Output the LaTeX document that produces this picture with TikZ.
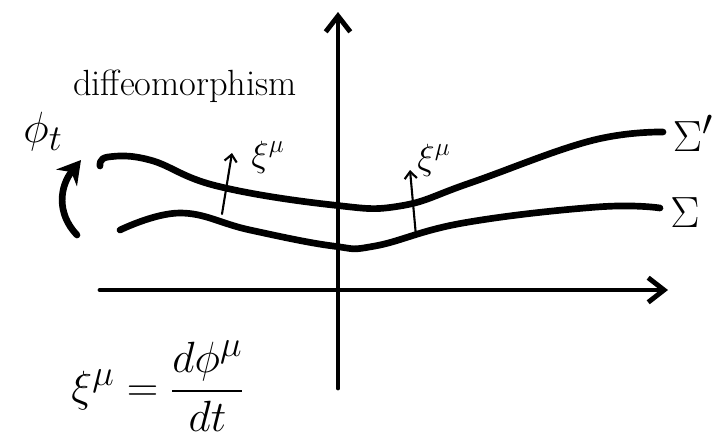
\documentclass[tikz,border=0pt]{standalone}
\usepackage{amsmath}
\usepackage{tikz}
\usetikzlibrary{arrows.meta}

\begin{document}
\begin{tikzpicture}[
  x=0.02cm, y=-0.02cm, line cap=round, line join=round,
  surf/.style={line width=3.8pt},
  axis/.style={line width=2.8pt, -{Straight Barb[length=9pt, width=14pt, line width=2.8pt]}},
  flow/.style={line width=1.2pt, -{Straight Barb[length=4pt, width=7pt, line width=1.2pt]}},
  lbl/.style={inner sep=0pt}]
\useasboundingbox (0,0) rectangle (724,441);
% axes
\coordinate (xl) at (100,290); \coordinate (xr) at (668,290);
\coordinate (yb) at (338,388); \coordinate (yt) at (338,12);
\draw[axis] (xl) -- (xr);
\draw[axis] (yb) -- (yt);
% the two slices
\draw[surf] plot[smooth, tension=0.7] coordinates {(100,166) (108,157) (150,160)
  (217,186) (333,205) (400,206) (470,183) (590,141) (663,132)};
\draw[surf] plot[smooth, tension=0.7] coordinates {(120,230) (180,213) (250,230)
  (333,246) (375,246) (463,223) (597,207) (660,208)};
% flow along xi
\coordinate (b1) at (222,214); \coordinate (t1) at (232,153);
\coordinate (b2) at (416,236); \coordinate (t2) at (410,170);
\draw[flow] (b1) -- (t1);
\draw[flow] (b2) -- (t2);
\node[lbl] (xi1) at (268,157) {\huge$\xi^\mu$};
\node[lbl] (xi2) at (434,160) {\huge$\xi^\mu$};
% pushforward arrow
\coordinate (p0) at (77,235); \coordinate (p1) at (81,160);
\draw[line width=3.8pt, -{Stealth[length=13pt, width=15pt]}] (p0) .. controls (56,213) and (60,186) .. (p1);
\node[lbl] (phit) at (43,132) {\Huge$\phi_t$};
\node[lbl] (diff) at (185,86) {\huge diffeomorphism};
% labels of slices
\node[lbl] (sigp) at (693,133) {\Huge$\Sigma'$};
\node[lbl] (sig) at (685,213) {\Huge$\Sigma$};
% definition
\node[lbl] (def) at (158,386) {\Huge$\xi^\mu = \dfrac{d\phi^\mu}{dt}$};
\end{tikzpicture}
\end{document}
